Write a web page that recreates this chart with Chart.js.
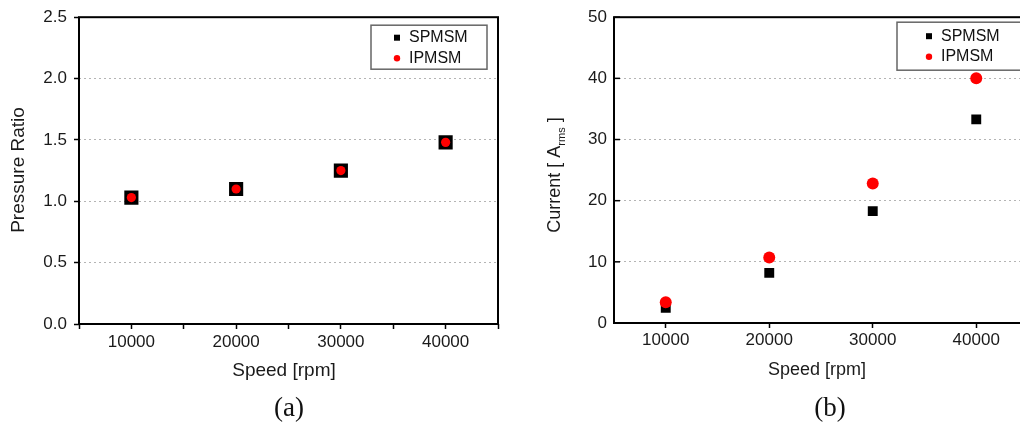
<!DOCTYPE html>
<html>
<head>
<meta charset="utf-8">
<script src="https://cdn.jsdelivr.net/npm/chart.js@4.4.0/dist/chart.umd.min.js"></script>
<style>
  html, body { margin: 0; padding: 0; background: #fff; width: 1020px; height: 423px; overflow: hidden; }
  .panel { position: absolute; top: 0; }
  .cap { position: absolute; top: 392px; width: 60px; text-align: center; line-height: 30px;
         font-family: "Liberation Serif", "Times New Roman", serif; font-size: 27px; color: #111; }
</style>
</head>
<body>
<canvas id="chartA" class="panel" style="left:0" width="510" height="423"></canvas>
<canvas id="chartB" class="panel" style="left:510px" width="530" height="423"></canvas>
<div class="cap" style="left:259px">(a)</div>
<div class="cap" style="left:800px">(b)</div>
<script>
// data
const speeds = [10000, 20000, 30000, 40000];
const speedTicks = [10000, 20000, 30000, 40000];
const seriesNames = ['SPMSM', 'IPMSM'];
const pressureSPMSM = [1.03, 1.10, 1.25, 1.48];
const pressureIPMSM = [1.03, 1.10, 1.25, 1.48];
const currentSPMSM = [2.5, 8.2, 18.3, 33.3];
const currentIPMSM = [3.4, 10.7, 22.8, 40.0];

const FONT = '"Liberation Sans", Arial, sans-serif';
Chart.defaults.font.family = FONT;
Chart.defaults.color = '#1a1a1a';

const toPoints = (ys) => speeds.map((x, i) => ({ x: x, y: ys[i] }));

// frame, legend box, inner ticks and axis titles
const extrasPlugin = {
  id: 'extras',
  afterDatasetsDraw(chart, args, o) {
    const { ctx, chartArea: a } = chart;
    ctx.save();

    // box around the plot
    ctx.strokeStyle = '#000';
    ctx.lineWidth = 2;
    ctx.strokeRect(a.left, a.top, a.right - a.left, a.bottom - a.top);

    // ticks pointing into the plot (panel b)
    if (o.innerTicks) {
      const ys = chart.scales.y;
      ctx.lineWidth = 1.5;
      ys.ticks.forEach(t => {
        const py = ys.getPixelForValue(t.value);
        ctx.beginPath();
        ctx.moveTo(a.left, py);
        ctx.lineTo(a.left + 6, py);
        ctx.stroke();
      });
    }

    // legend
    const lg = o.legend;
    const bx = a.left + lg.x, by = a.top + lg.y;
    ctx.fillStyle = '#fff';
    ctx.fillRect(bx, by, lg.w, lg.h);
    ctx.strokeStyle = '#666';
    ctx.lineWidth = 1.5;
    ctx.strokeRect(bx, by, lg.w, lg.h);
    ctx.font = '16px ' + FONT;
    ctx.textBaseline = 'middle';
    ctx.textAlign = 'left';
    chart.data.datasets.forEach((ds, i) => {
      const my = by + lg.rows[i];
      const mx = bx + lg.mx;
      ctx.fillStyle = ds.pointBackgroundColor;
      if (ds.pointStyle === 'rect') {
        ctx.fillRect(mx - 3, my - 3, 6, 6);
      } else {
        ctx.beginPath();
        ctx.arc(mx, my, 3.2, 0, Math.PI * 2);
        ctx.fill();
      }
      ctx.fillStyle = '#111';
      ctx.fillText(ds.label, bx + lg.tx, my);
    });

    // axis titles
    ctx.fillStyle = '#1a1a1a';
    o.titles.forEach(tt => {
      ctx.save();
      ctx.translate(tt.x, tt.y);
      if (tt.rot) ctx.rotate(tt.rot);
      ctx.textBaseline = 'middle';
      ctx.textAlign = 'left';
      let total = 0;
      tt.parts.forEach(p => {
        ctx.font = p.size + 'px ' + FONT;
        total += ctx.measureText(p.t).width;
      });
      let cx = -total / 2;
      tt.parts.forEach(p => {
        ctx.font = p.size + 'px ' + FONT;
        ctx.fillText(p.t, cx, p.dy || 0);
        cx += ctx.measureText(p.t).width;
      });
      ctx.restore();
    });

    ctx.restore();
  }
};

function makeChart(id, cfg) {
  return new Chart(document.getElementById(id), {
    type: 'scatter',
    data: {
      datasets: [
        {
          label: seriesNames[0],
          data: toPoints(cfg.sp),
          pointStyle: 'rect',
          pointRadius: cfg.rectR,
          pointHoverRadius: cfg.rectR,
          pointBackgroundColor: '#000000',
          pointBorderWidth: 0,
          order: 2
        },
        {
          label: seriesNames[1],
          data: toPoints(cfg.ip),
          pointStyle: 'circle',
          pointRadius: cfg.dotR,
          pointHoverRadius: cfg.dotR,
          pointBackgroundColor: '#ff0000',
          pointBorderWidth: 0,
          order: 1
        }
      ]
    },
    options: {
      responsive: false,
      animation: false,
      layout: { padding: cfg.padding },
      plugins: {
        legend: { display: false },
        tooltip: { enabled: false },
        extras: {
          innerTicks: cfg.innerTicks,
          legend: cfg.legend,
          titles: cfg.titles
        }
      },
      scales: {
        x: {
          type: 'linear',
          min: 5000,
          max: 45000,
          afterFit: (s) => { s.height = cfg.xAxisH; },
          ticks: {
            stepSize: 5000,
            autoSkip: false,
            maxRotation: 0,
            padding: cfg.xPad,
            font: { size: 17 },
            callback: (v) => speedTicks.includes(v) ? String(v) : ''
          },
          grid: {
            drawOnChartArea: false,
            drawTicks: true,
            tickLength: 5,
            tickWidth: 1.5,
            tickColor: (c) => (cfg.minorX || speedTicks.includes(c.tick.value)) ? '#000' : 'rgba(0,0,0,0)'
          },
          border: { display: false }
        },
        y: {
          min: 0,
          max: cfg.yMax,
          afterFit: (s) => { s.width = cfg.yAxisW; },
          ticks: {
            stepSize: cfg.yStep,
            padding: 7,
            font: { size: 17 },
            callback: cfg.yFmt
          },
          grid: {
            color: (c) => (c.tick.value > 0 && c.tick.value < cfg.yMax) ? '#b4b4b4' : 'rgba(0,0,0,0)',
            lineWidth: 1,
            drawTicks: !cfg.innerTicks,
            tickLength: 5,
            tickWidth: 1.5,
            tickColor: '#000',
            tickBorderDash: []
          },
          border: { display: false, dash: [2, 3] }
        }
      }
    },
    plugins: [extrasPlugin]
  });
}

// (a) pressure ratio
makeChart('chartA', {
  sp: pressureSPMSM,
  ip: pressureIPMSM,
  rectR: 10,
  dotR: 4.6,
  padding: { top: 16, right: 12, left: 0, bottom: 0 },
  yAxisW: 79,
  xAxisH: 99,
  xPad: 3,
  minorX: true,
  innerTicks: false,
  yMax: 2.5,
  yStep: 0.5,
  yFmt: (v) => v.toFixed(1),
  legend: { x: 292, y: 8, w: 116, h: 44, mx: 26, tx: 38, rows: [12.5, 33] },
  titles: [
    { x: 18.5, y: 170, rot: -Math.PI / 2, parts: [{ t: 'Pressure Ratio', size: 19 }] },
    { x: 284, y: 371, parts: [{ t: 'Speed [rpm]', size: 19 }] }
  ]
});

// (b) current
makeChart('chartB', {
  sp: currentSPMSM,
  ip: currentIPMSM,
  rectR: 7,
  dotR: 6,
  padding: { top: 17, right: 12, left: 0, bottom: 0 },
  yAxisW: 104,
  xAxisH: 100,
  xPad: 2,
  minorX: false,
  innerTicks: true,
  yMax: 50,
  yStep: 10,
  yFmt: (v) => String(v),
  legend: { x: 283, y: 5, w: 135, h: 48, mx: 32, tx: 44, rows: [14, 34.5] },
  titles: [
    { x: 45.5, y: 175, rot: -Math.PI / 2, parts: [
      { t: 'Current [ A', size: 18 },
      { t: 'rms', size: 11, dy: 6 },
      { t: ' ]', size: 18 }
    ] },
    { x: 307, y: 370, parts: [{ t: 'Speed [rpm]', size: 18 }] }
  ]
});
</script>
</body>
</html>
